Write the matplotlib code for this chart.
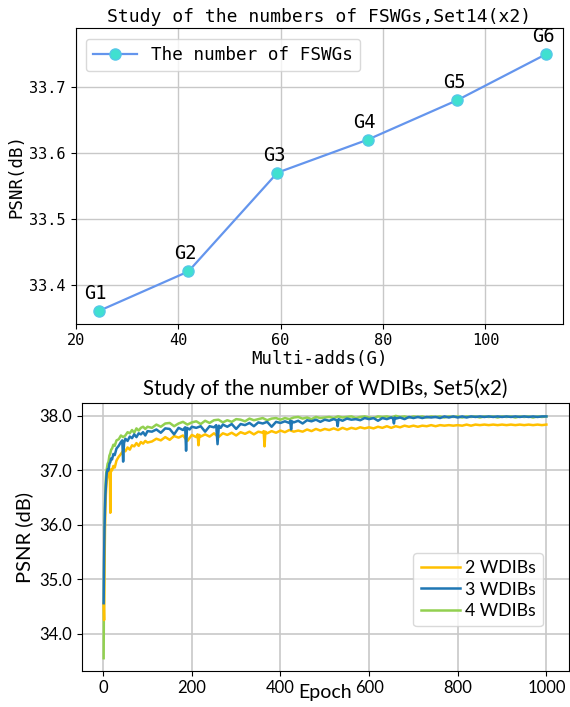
import matplotlib
matplotlib.use("Agg")
import matplotlib.pyplot as plt

# ---------------- top chart data ----------------
multi_adds = [24.5, 42.0, 59.4, 77.0, 94.5, 111.9]
psnr_fswg = [33.36, 33.42, 33.57, 33.62, 33.68, 33.75]
group_labels = ["G1", "G2", "G3", "G4", "G5", "G6"]
x_ticks_top = [20, 40, 60, 80, 100]
y_ticks_top = [33.4, 33.5, 33.6, 33.7]

# ---------------- bottom chart data ----------------
# 4 WDIBs
epochs_4 = [1, 2, 3, 4, 5, 6, 7, 8, 10, 12,
            14, 16, 18, 20, 23, 26, 30, 35, 40, 45,
            50, 55, 60, 65, 70, 75, 80, 85, 90, 95, 100,
            110, 120, 130, 140, 150, 160, 170, 180, 190, 200,
            210, 220, 230, 240, 250, 260, 270, 280, 290, 300,
            310, 320, 330, 340, 350, 360, 370, 380, 390, 400,
            410, 420, 430, 440, 450, 460, 470, 480, 490, 500,
            510, 520, 530, 540, 550, 560, 570, 580, 590, 600,
            610, 620, 630, 640, 650, 660, 670, 680, 690, 700,
            710, 720, 730, 740, 750, 760, 770, 780, 790, 800,
            810, 820, 830, 840, 850, 860, 870, 880, 890, 900,
            910, 920, 930, 940, 950, 960, 970, 980, 990, 1000]
psnr_4 = [33.55, 35.20, 35.90, 36.40, 36.72, 36.85, 36.97, 37.02, 37.12, 37.16,
          37.27, 37.31, 37.38, 37.40, 37.47, 37.45, 37.55, 37.57, 37.64, 37.61,
          37.64, 37.70, 37.68, 37.74, 37.69, 37.77, 37.73, 37.78, 37.80, 37.76, 37.80,
          37.78, 37.84, 37.80, 37.86, 37.87, 37.81, 37.86, 37.89, 37.84, 37.88,
          37.90, 37.85, 37.91, 37.87, 37.92, 37.93, 37.88, 37.92, 37.89, 37.94,
          37.93, 37.90, 37.95, 37.92, 37.94, 37.96, 37.92, 37.95, 37.96, 37.93,
          37.96, 37.94, 37.97, 37.98, 37.95, 37.97, 37.94, 37.98, 37.96, 37.97,
          37.98, 37.96, 37.99, 37.97, 37.98, 37.99, 37.96, 37.98, 37.99, 37.97,
          37.96, 37.99, 37.98, 37.99, 37.97, 38.00, 37.98, 37.99, 37.97, 37.99,
          37.98, 37.99, 37.97, 37.99, 37.98, 37.99, 37.97, 37.99, 37.98, 37.99,
          37.97, 37.99, 37.98, 37.99, 37.97, 37.99, 37.98, 37.99, 37.97, 37.99,
          37.98, 37.99, 37.97, 37.99, 37.98, 37.99, 37.97, 37.99, 37.98, 37.99]

# 3 WDIBs
epochs_3 = [1, 2, 3, 4, 5, 6, 7, 8, 10, 12,
            14, 16, 18, 20, 23, 26, 30, 35, 40, 43,
            45, 47, 50, 55, 60, 65, 70, 75, 80, 85,
            90, 95, 100,
            110, 120, 130, 140, 150, 160, 170, 180, 185, 187, 189, 195, 200,
            210, 220, 230, 240, 250, 255, 258, 261, 265, 270, 280, 290, 300,
            310, 320, 330, 340, 350, 360, 370, 380, 390, 400,
            410, 420, 422, 424, 426, 430, 440, 450, 460, 470, 480, 490, 500,
            510, 520, 527, 529, 531, 540, 550, 560, 570, 580, 590, 600,
            610, 620, 630, 640, 650, 654, 656, 658, 660, 670, 680, 690, 700,
            710, 720, 730, 740, 750, 760, 770, 780, 790, 800,
            810, 820, 830, 840, 850, 860, 870, 880, 890, 900,
            910, 920, 930, 940, 950, 960, 970, 980, 990, 1000]
psnr_3 = [34.56, 35.40, 35.95, 36.30, 36.55, 36.72, 36.85, 36.95, 37.02, 37.00,
          37.12, 37.15, 37.22, 37.20, 37.30, 37.28, 37.40, 37.45, 37.52, 37.55,
          37.16, 37.50, 37.58, 37.54, 37.62, 37.59, 37.66, 37.61, 37.68, 37.66,
          37.70, 37.64, 37.72,
          37.71, 37.75, 37.69, 37.77, 37.76, 37.66, 37.78, 37.74, 37.79, 37.36, 37.78, 37.75, 37.80,
          37.78, 37.81, 37.71, 37.81, 37.79, 37.83, 37.48, 37.82, 37.78, 37.84, 37.80, 37.85, 37.76,
          37.85, 37.83, 37.87, 37.81, 37.88, 37.86, 37.89, 37.80, 37.89, 37.87,
          37.90, 37.87, 37.91, 37.75, 37.90, 37.88, 37.91, 37.86, 37.92, 37.90, 37.93, 37.89, 37.93,
          37.91, 37.94, 37.92, 37.81, 37.94, 37.91, 37.95, 37.93, 37.94, 37.92, 37.96, 37.94,
          37.96, 37.91, 37.96, 37.94, 37.97, 37.95, 37.86, 37.97, 37.95, 37.97, 37.94, 37.98, 37.96,
          37.98, 37.96, 37.98, 37.97, 37.98, 37.96, 37.99, 37.97, 37.99, 37.97,
          37.99, 37.97, 37.99, 37.98, 37.99, 37.98, 37.99, 37.98, 37.99, 37.98,
          37.99, 37.98, 37.99, 37.98, 37.99, 37.98, 37.99, 37.98, 37.99, 37.99]

# 2 WDIBs
epochs_2 = [1, 2, 3, 4, 5, 6, 7, 8, 10, 12,
            14, 15, 16, 17, 18, 20, 23, 26, 30, 35,
            40, 45, 50, 55, 60, 65, 70, 75, 80, 85,
            90, 95, 100,
            110, 120, 130, 140, 150, 160, 170, 180, 190, 200,
            210, 213, 215, 217, 220, 230, 240, 250, 260, 270, 280, 290, 300,
            310, 320, 330, 340, 350, 360, 362, 364, 366, 370, 380, 390, 400,
            410, 420, 430, 440, 450, 460, 470, 480, 490, 500,
            510, 520, 530, 540, 550, 560, 570, 580, 590, 600,
            610, 620, 630, 640, 650, 660, 670, 680, 690, 700,
            710, 720, 730, 740, 750, 760, 770, 780, 790, 800,
            810, 820, 830, 840, 850, 860, 870, 880, 890, 900,
            910, 920, 930, 940, 950, 960, 970, 980, 990, 1000]
psnr_2 = [34.55, 34.25, 35.20, 35.90, 36.30, 36.55, 36.70, 36.80, 36.90, 36.95,
          37.00, 36.98, 36.22, 36.95, 37.02, 37.00, 37.08, 37.05, 37.18, 37.25,
          37.30, 37.36, 37.35, 37.42, 37.38, 37.46, 37.44, 37.50, 37.45, 37.52,
          37.49, 37.54, 37.51,
          37.53, 37.58, 37.55, 37.61, 37.56, 37.63, 37.60, 37.64, 37.54, 37.65,
          37.61, 37.66, 37.46, 37.65, 37.62, 37.66, 37.62, 37.68, 37.61, 37.68, 37.65, 37.69, 37.64,
          37.70, 37.67, 37.71, 37.66, 37.71, 37.69, 37.72, 37.44, 37.71, 37.68, 37.72, 37.69, 37.73,
          37.70, 37.74, 37.71, 37.73, 37.71, 37.75, 37.72, 37.76, 37.73, 37.76,
          37.74, 37.77, 37.74, 37.78, 37.75, 37.78, 37.76, 37.79, 37.77, 37.79,
          37.77, 37.80, 37.78, 37.81, 37.78, 37.81, 37.79, 37.82, 37.80, 37.82,
          37.80, 37.82, 37.81, 37.83, 37.81, 37.83, 37.82, 37.83, 37.82, 37.83,
          37.82, 37.84, 37.82, 37.84, 37.83, 37.84, 37.83, 37.84, 37.83, 37.84,
          37.83, 37.84, 37.83, 37.84, 37.83, 37.84, 37.83, 37.84, 37.83, 37.84]

series_labels = ["2 WDIBs", "3 WDIBs", "4 WDIBs"]
series_colors = ["#FFC000", "#1F77B4", "#92D050"]
y_ticks_bot = [34.0, 35.0, 36.0, 37.0, 38.0]
x_ticks_bot = [0, 200, 400, 600, 800, 1000]

# ---------------- figure ----------------
fig = plt.figure(figsize=(5.70, 7.07), dpi=100)

mono = ["DejaVu Sans Mono"]
sans = ["Lato", "DejaVu Sans"]

# ---- top axes ----
ax1 = fig.add_axes([0.1328, 0.5424, 0.8544, 0.4184])
ax1.plot(multi_adds, psnr_fswg, color="#6495ED", lw=1.6, marker="o", markersize=8,
         markerfacecolor="#40E0D0", markeredgecolor="#55C8E8", markeredgewidth=1,
         label="The number of FSWGs", zorder=3)
for xv, yv, lab in zip(multi_adds, psnr_fswg, group_labels):
    ax1.annotate(lab, (xv, yv), xytext=(-2.2, 5.8), textcoords="offset points",
                 ha="center", va="bottom", fontsize=13.5, family=mono)
ax1.set_xlim(20, 115.1)
ax1.set_ylim(33.341, 33.79)
ax1.set_xticks(x_ticks_top)
ax1.set_yticks(y_ticks_top)
ax1.set_xticklabels([str(v) for v in x_ticks_top], family=mono, fontsize=11)
ax1.set_yticklabels([f"{v:.1f}" for v in y_ticks_top], family=mono, fontsize=11)
ax1.grid(True, color="#c8c8c8", lw=1.0)
ax1.set_axisbelow(True)
ax1.set_title("Study of the numbers of FSWGs,Set14(x2)", family=mono, fontsize=13.0, pad=4)
ax1.set_xlabel("Multi-adds(G)", family=mono, fontsize=12.5, labelpad=1)
ax1.set_ylabel("PSNR(dB)", family=mono, fontsize=12.5, labelpad=3)
ax1.legend(loc="upper left", bbox_to_anchor=(0.021, 0.962), borderaxespad=0,
           prop={"family": mono, "size": 12.7}, handlelength=2.5,
           fancybox=True, framealpha=0.8, edgecolor="#d0d0d0")

# ---- bottom axes ----
ax2 = fig.add_axes([0.143, 0.0513, 0.8544, 0.3782])
ep_lists = [epochs_2, epochs_3, epochs_4]
val_lists = [psnr_2, psnr_3, psnr_4]
zorders = [3, 4, 2]
handles = []
for ep, vals, lab, col, zo in zip(ep_lists, val_lists, series_labels, series_colors, zorders):
    h, = ax2.plot(ep, vals, color=col, lw=1.8, label=lab, zorder=zo)
    handles.append(h)
ax2.set_xlim(-48.95, 1049.95)
ax2.set_ylim(33.32, 38.23)
ax2.set_xticks(x_ticks_bot)
ax2.set_yticks(y_ticks_bot)
ax2.set_xticklabels([str(v) for v in x_ticks_bot], family=sans, fontsize=12)
ax2.set_yticklabels([f"{v:.1f}" for v in y_ticks_bot], family=sans, fontsize=12)
ax2.grid(True, color="#c8c8c8", lw=1.2)
ax2.set_axisbelow(True)
ax2.set_title("Study of the number of WDIBs, Set5(x2)", family=sans, fontsize=14.8, pad=6)
ax2.set_ylabel("PSNR (dB)", family=sans, fontsize=14.5, labelpad=4)
ax2.set_xlabel("Epoch", family=sans, fontsize=14)
ax2.xaxis.set_label_coords(0.5, -0.05)
ax2.legend(handles=handles, loc="lower right", bbox_to_anchor=(0.9476, 0.167),
           borderaxespad=0, prop={"family": sans, "size": 12.8}, handlelength=2.2,
           labelspacing=0.3, handletextpad=0.3, framealpha=0.8, edgecolor="#d0d0d0")

fig.savefig("out.png", dpi=100)
